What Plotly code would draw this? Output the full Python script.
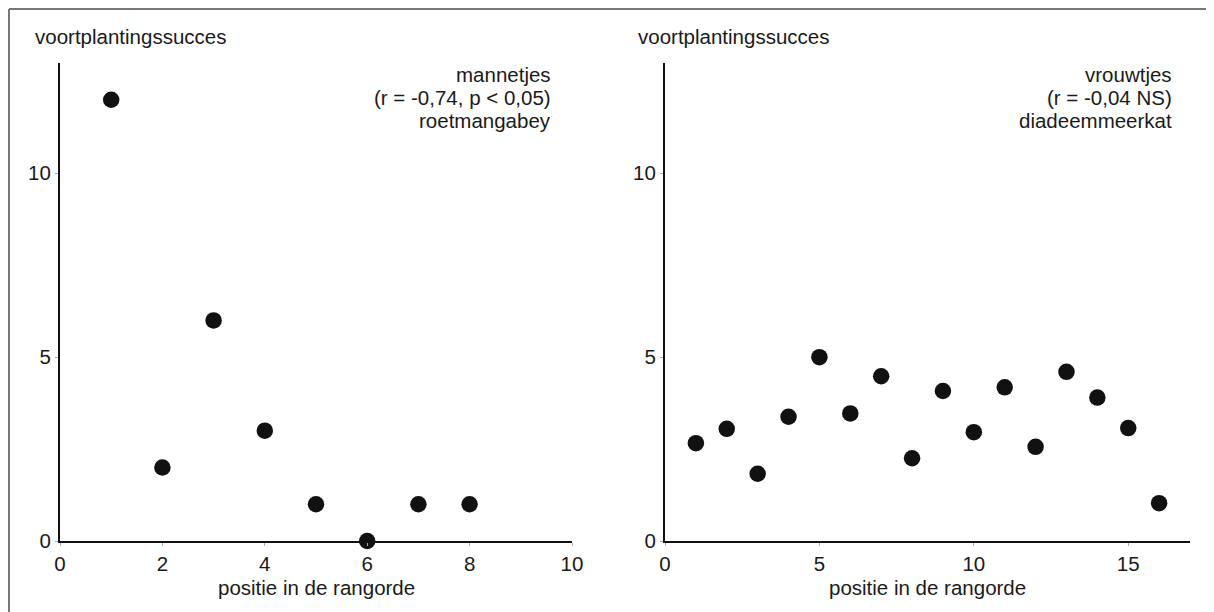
import plotly.graph_objects as go

# Data
male_rank = [1, 2, 3, 4, 5, 6, 7, 8]
male_success = [12, 2, 6, 3, 1, 0, 1, 1]
female_rank = list(range(1, 17))
female_success = [2.66, 3.05, 1.83, 3.38, 5.0, 3.47, 4.48, 2.25, 4.08, 2.96, 4.18, 2.56, 4.6, 3.9, 3.07, 1.03]

y_title = "voortplantingssucces"
x_title = "positie in de rangorde"
male_text = ["mannetjes", "(r = -0,74, p < 0,05)", "roetmangabey"]
female_text = ["vrouwtjes", "(r = -0,04 NS)", "diadeemmeerkat"]

# page body has an 8px margin; figure sized to fit the window
OFF = 8
W, H = 1214 - OFF, 612 - OFF
FONT = "Liberation Sans, Arial, sans-serif"
TXT = "#1a1a1a"
FS = 20.5


def px_x(p):  # screen pixel -> paper x
    return (p - OFF) / W


def px_y(p):  # screen pixel -> paper y
    return 1 - (p - OFF) / H


fig = go.Figure()
marker = dict(color="#111111", size=16.5, line=dict(width=0))
fig.add_trace(go.Scatter(x=male_rank, y=male_success, mode="markers", marker=marker,
                         xaxis="x", yaxis="y", cliponaxis=False, showlegend=False))
fig.add_trace(go.Scatter(x=female_rank, y=female_success, mode="markers", marker=marker,
                         xaxis="x2", yaxis="y2", cliponaxis=False, showlegend=False))

axis_common = dict(showline=True, linecolor="#111111", linewidth=2, showgrid=False,
                   zeroline=False, ticks="outside", ticklen=3, tickcolor="#aaaaaa", tickwidth=1,
                   tickfont=dict(family=FONT, size=FS, color=TXT), automargin=False, fixedrange=True)

ydom = [px_y(541), px_y(63)]
fig.update_layout(
    width=W, height=H,
    margin=dict(l=0, r=0, t=0, b=0),
    paper_bgcolor="white", plot_bgcolor="white",
    font=dict(family=FONT, size=FS, color=TXT),
    xaxis=dict(axis_common, domain=[px_x(60), px_x(572)], range=[0, 10], tickvals=[0, 2, 4, 6, 8, 10],
               anchor="y"),
    yaxis=dict(axis_common, domain=ydom, range=[0, 13], tickvals=[0, 5, 10], anchor="x"),
    xaxis2=dict(axis_common, domain=[px_x(665), px_x(1190)], range=[0, 17], tickvals=[0, 5, 10, 15],
                anchor="y2"),
    yaxis2=dict(axis_common, domain=ydom, range=[0, 13], tickvals=[0, 5, 10], anchor="x2"),
)

annotations = []
# y titles (top-left of each panel)
for xp in (33, 636):
    annotations.append(dict(x=px_x(xp), y=px_y(36), xref="paper", yref="paper", text=y_title,
                            showarrow=False, xanchor="left", yanchor="middle",
                            font=dict(family=FONT, size=FS, color=TXT)))
# x titles (centred under each axis)
for xc in ((60 + 572) / 2, (665 + 1190) / 2):
    annotations.append(dict(x=px_x(xc), y=px_y(587), xref="paper", yref="paper", text=x_title,
                            showarrow=False, xanchor="center", yanchor="middle",
                            font=dict(family=FONT, size=FS, color=TXT)))
# panel labels
for xr, lines in ((553, male_text), (1174, female_text)):
    for i, t in enumerate(lines):
        annotations.append(dict(x=px_x(xr), y=px_y(75 + 22.5 * i), xref="paper", yref="paper", text=t,
                                showarrow=False, xanchor="right", yanchor="middle",
                                font=dict(family=FONT, size=FS, color=TXT)))
fig.update_layout(annotations=annotations)

# Frame (top and left edges visible in the reference)
fig.add_shape(type="line", xref="paper", yref="paper", x0=px_x(9), x1=1.0, y0=px_y(9), y1=px_y(9),
              line=dict(color="#777777", width=2))
fig.add_shape(type="line", xref="paper", yref="paper", x0=px_x(9), x1=px_x(9), y0=px_y(9), y1=0.0,
              line=dict(color="#777777", width=2))

fig.write_html("out.html")
